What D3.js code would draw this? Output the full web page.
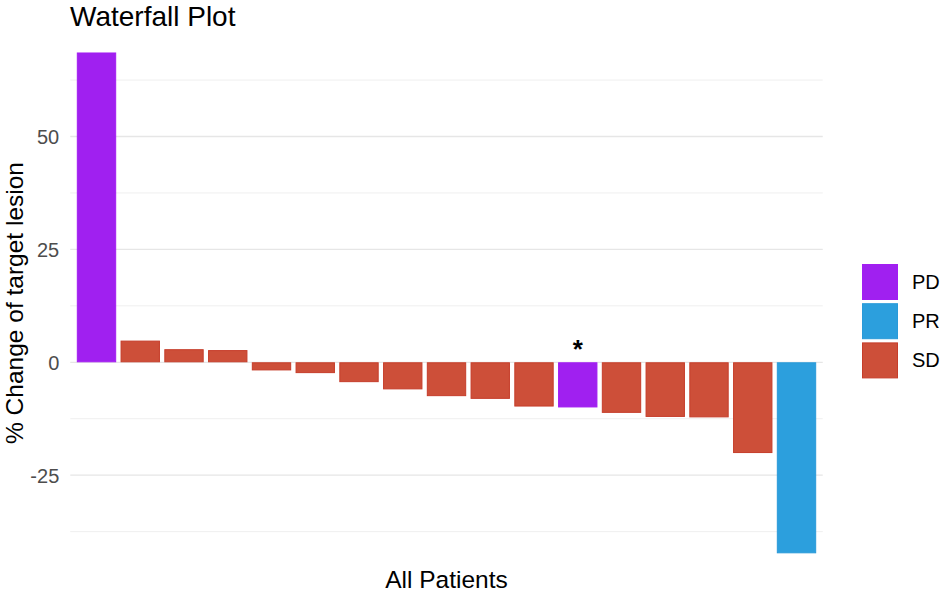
<!DOCTYPE html>
<html><head><meta charset="utf-8">
<script src="https://cdn.jsdelivr.net/npm/d3@7"></script>
<style>body{margin:0;background:#fff;}text{font-family:Arial,"Liberation Sans",sans-serif;}</style>
</head><body>
<svg id="c" width="940" height="593"></svg>
<script>
const patients = ["P1","P2","P3","P4","P5","P6","P7","P8","P9","P10","P11","P12","P13","P14","P15","P16","P17"];
const changes = [68.6, 4.8, 2.9, 2.7, -1.8, -2.4, -4.4, -6.0, -7.5, -8.1, -9.8, -10.0, -11.2, -12.1, -12.2, -20.1, -42.3];
const responses = ["PD","SD","SD","SD","SD","SD","SD","SD","SD","SD","SD","PD","SD","SD","SD","SD","PR"];
const marked = ["P12"];
const categories = ["PD","PR","SD"];
const colors = ["#a020f0","#2c9fdd","#cd4f39"];
const strokes = ["#a31ef2","#2a9ad9","#c63d2a"];
const majorTicks = [-25, 0, 25, 50];
const minorTicks = [-37.5, -12.5, 12.5, 37.5, 62.5];

const svg = d3.select("#c");
const pLeft = 70.25, pRight = 822.75, pTop = 28.1, pBottom = 565.5;

const x = d3.scaleBand().domain(patients).range([pLeft, pRight]).paddingInner(0.1).paddingOuter(0.15);
const y = d3.scaleLinear().domain([-45, 74]).range([pBottom, pTop]);
const col = d3.scaleOrdinal().domain(categories).range(colors);
const stk = d3.scaleOrdinal().domain(categories).range(strokes);

// grid
svg.append("g").selectAll("line").data(minorTicks).join("line")
  .attr("x1", pLeft).attr("x2", pRight).attr("y1", d => y(d)).attr("y2", d => y(d))
  .attr("stroke", "#efefef").attr("stroke-width", 1);
svg.append("g").selectAll("line").data(majorTicks).join("line")
  .attr("x1", pLeft).attr("x2", pRight).attr("y1", d => y(d)).attr("y2", d => y(d))
  .attr("stroke", "#e6e6e6").attr("stroke-width", 1.3);

// y axis labels
const yAxis = d3.axisLeft(y).tickValues(majorTicks).tickSize(0).tickPadding(0).tickFormat(d => String(d));
const ga = svg.append("g").attr("transform", `translate(${pLeft - 11},0)`).call(yAxis);
ga.select(".domain").remove();
ga.selectAll("text").attr("font-size", 20).attr("fill", "#4d4d4d").attr("font-family", "Arial, Liberation Sans, sans-serif").attr("dy", "0.35em");

// bars
const data = patients.map((p, i) => ({p, v: changes[i], r: responses[i]}));
svg.append("g").selectAll("rect").data(data).join("rect")
  .attr("x", d => x(d.p) + 0.5)
  .attr("width", x.bandwidth() - 1)
  .attr("y", d => Math.min(y(d.v), y(0)) + 0.5)
  .attr("height", d => Math.abs(y(d.v) - y(0)) - 1)
  .attr("fill", d => col(d.r))
  .attr("stroke", d => stk(d.r)).attr("stroke-width", 1);

// asterisk
svg.append("g").selectAll("text").data(data.filter(d => marked.includes(d.p))).join("text")
  .attr("x", d => x(d.p) + x.bandwidth() / 2)
  .attr("y", d => y(0) - 4)
  .attr("text-anchor", "middle").attr("font-size", 26).attr("font-weight", "bold")
  .attr("fill", "#000").text("*");

// titles
svg.append("text").attr("x", 70).attr("y", 25.5).attr("font-size", 28).attr("fill", "#000").text("Waterfall Plot");
svg.append("text").attr("x", (pLeft + pRight) / 2).attr("y", 587.5).attr("text-anchor", "middle")
  .attr("font-size", 24.5).attr("fill", "#000").text("All Patients");
svg.append("text").attr("transform", `translate(22.5,303) rotate(-90)`).attr("text-anchor", "middle")
  .attr("font-size", 24.5).attr("fill", "#000").text("% Change of target lesion");

// legend
const lg = svg.append("g").attr("transform", "translate(862,264)");
const items = lg.selectAll("g").data(categories).join("g").attr("transform", (d, i) => `translate(0,${i * 39.2})`);
items.append("rect").attr("x", 0.5).attr("y", 0.5).attr("width", 35).attr("height", 35)
  .attr("fill", d => col(d)).attr("stroke", d => stk(d)).attr("stroke-width", 1);
items.append("text").attr("x", 50).attr("y", 18).attr("dy", "0.35em").attr("font-size", 20).attr("fill", "#000").text(d => d);
</script>
</body></html>
